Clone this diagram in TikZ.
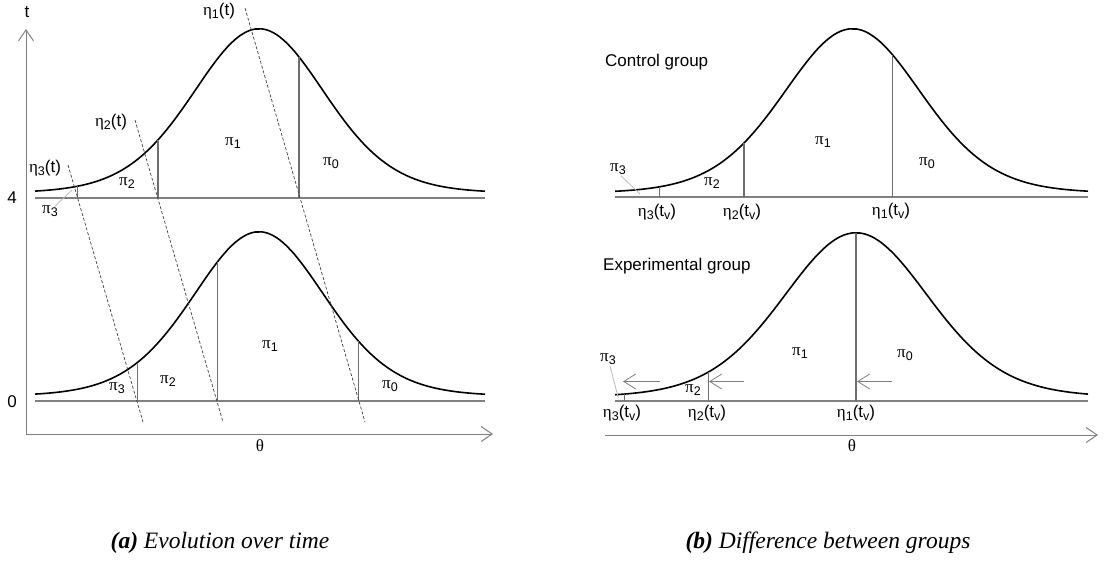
\documentclass[tikz,border=0pt]{standalone}
\usepackage{fontspec}
\setmainfont{Liberation Sans}
\newfontfamily\grk{Liberation Serif}
\newfontfamily\capf{Liberation Serif}
\usetikzlibrary{arrows.meta}
\newcommand\sbx[1]{\raisebox{-0.35ex}{\fontsize{12.5}{12.5}\selectfont #1}}
\newcommand\gpi[1]{{\grk π}\sbx{#1}}
\newcommand\geta[2]{{\grk η}\sbx{#1}(#2)}
\newcommand\tv{t\sbx{v}}
% bell curve height at distance #1 from centre, scale #2
\pgfmathdeclarefunction{gs}{2}{\pgfmathparse{164*(1+((#1)/(#2))^2/15)^(-8)}}
\definecolor{axisgray}{HTML}{808080}
\definecolor{cutgray}{HTML}{6E6E6E}
\definecolor{leadgray}{HTML}{BBBBBB}
\tikzset{
  lbl/.style={font=\fontsize{17}{19}\selectfont, inner sep=0pt},
  caplbl/.style={font=\fontsize{23.5}{26}\capf\itshape, inner sep=0pt},
  curve/.style={line width=1.6pt, black},
  baseln/.style={line width=1.3pt, axisgray},
  cutln/.style={line width=1.2pt, cutgray},
  axisln/.style={line width=1pt, axisgray, -{Straight Barb[length=11pt,width=15pt,line width=1pt]}},
  dashln/.style={line width=0.7pt, black!75, dash pattern=on 3pt off 2pt},
  shiftarr/.style={line width=0.8pt, axisgray, -{Straight Barb[length=12pt,width=15pt,line width=0.8pt]}},
  leadln/.style={line width=0.8pt, leadgray}
}
\begin{document}
\begin{tikzpicture}[x=1pt,y=-1pt]
\useasboundingbox (0,0) rectangle (1105,560);

% ---------------- Panel (a) ----------------
\coordinate (ta0) at (26,434);
\coordinate (taT) at (26,29);
\coordinate (taR) at (493,434);
\draw[axisln] (ta0) -- (taT);
\draw[axisln] (ta0) -- (taR);
\node[lbl] (tlab) at (27,12) {t};
\node[lbl] (thA) at (260,446) {\grk θ};
\node[lbl] (four) at (12,198) {4};
\node[lbl] (zero) at (12,402) {0};

% top curve (t = 4)
\coordinate (b4L) at (35,198); \coordinate (b4R) at (485,198);
\draw[baseln] (b4L) -- (b4R);
\draw[curve] plot[domain=35:485, samples=150, smooth] (\x,{193-gs(\x-259,67)});
\coordinate (c4a) at (77.7,198); \coordinate (c4aT) at (77.7,{193-gs(77.7-259,67)});
\coordinate (c4b) at (158,198); \coordinate (c4bT) at (158,{193-gs(158-259,67)});
\coordinate (c4c) at (299,198); \coordinate (c4cT) at (299,{193-gs(299-259,67)});
\draw[cutln] (c4a) -- (c4aT);
\draw[cutln] (c4b) -- (c4bT);
\draw[cutln] (c4c) -- (c4cT);

% bottom curve (t = 0)
\coordinate (b0L) at (35,401); \coordinate (b0R) at (485,401);
\draw[baseln] (b0L) -- (b0R);
\draw[curve] plot[domain=35:485, samples=150, smooth] (\x,{396-gs(\x-259,67)});
\coordinate (c0a) at (137.3,401); \coordinate (c0aT) at (137.3,{396-gs(137.3-259,67)});
\coordinate (c0b) at (217.3,401); \coordinate (c0bT) at (217.3,{396-gs(217.3-259,67)});
\coordinate (c0c) at (358.5,401); \coordinate (c0cT) at (358.5,{396-gs(358.5-259,67)});
\draw[cutln] (c0a) -- (c0aT);
\draw[cutln] (c0b) -- (c0bT);
\draw[cutln] (c0c) -- (c0cT);

% dashed threshold trajectories
\coordinate (d1s) at (245,8);   \coordinate (d1e) at (365,422);
\coordinate (d2s) at (135,120); \coordinate (d2e) at (223,422);
\coordinate (d3s) at (68,165);  \coordinate (d3e) at (143,422);
\draw[dashln] (d1s) -- (d1e);
\draw[dashln] (d2s) -- (d2e);
\draw[dashln] (d3s) -- (d3e);
\node[lbl] (e1t) at (219,11) {\geta{1}{t}};
\node[lbl] (e2t) at (111,122) {\geta{2}{t}};
\node[lbl] (e3t) at (45,168) {\geta{3}{t}};

% pi labels, panel (a)
\node[lbl] (p3a) at (50,211) {\gpi{3}};
\coordinate (l3a) at (72,190);
\draw[leadln] (p3a.north east) ++(-3,1) coordinate (l3as) -- (l3a);
\node[lbl] (p2a) at (127,183) {\gpi{2}};
\node[lbl] (p1a) at (233,143) {\gpi{1}};
\node[lbl] (p0a) at (331,163) {\gpi{0}};
\node[lbl] (p3b) at (117,388) {\gpi{3}};
\node[lbl] (p2b) at (168,381) {\gpi{2}};
\node[lbl] (p1b) at (270,346) {\gpi{1}};
\node[lbl] (p0b) at (390,386) {\gpi{0}};

% ---------------- Panel (b) ----------------
\coordinate (tbL) at (605,435);
\coordinate (tbR) at (1098,435);
\draw[axisln] (tbL) -- (tbR);
\node[lbl] (thB) at (852,446) {\grk θ};

% control group
\node[lbl, anchor=base west] (ctl) at (605,66) {Control group};
\coordinate (bcL) at (615,197); \coordinate (bcR) at (1088,197);
\draw[baseln] (bcL) -- (bcR);
\draw[curve] plot[domain=615:1088, samples=150, smooth] (\x,{193-gs(\x-852.5,70)});
\coordinate (cca) at (659.5,197); \coordinate (ccaT) at (659.5,{193-gs(659.5-852.5,70)});
\coordinate (ccb) at (744,197); \coordinate (ccbT) at (744,{193-gs(744-852.5,70)});
\coordinate (ccc) at (892.5,197); \coordinate (cccT) at (892.5,{193-gs(892.5-852.5,70)});
\draw[cutln] (cca) -- (ccaT);
\draw[cutln] (ccb) -- (ccbT);
\draw[cutln] (ccc) -- (cccT);
\node[lbl] (p3c) at (618,169) {\gpi{3}};
\coordinate (l3c) at (640,194);
\draw[leadln] (p3c.south) ++(3,1) coordinate (l3cs) -- (l3c);
\node[lbl] (p2c) at (712,183) {\gpi{2}};
\node[lbl] (p1c) at (823,142) {\gpi{1}};
\node[lbl] (p0c) at (927,163) {\gpi{0}};
\node[lbl] (e3c) at (657,212) {\geta{3}{\tv}};
\node[lbl] (e2c) at (742,212) {\geta{2}{\tv}};
\node[lbl] (e1c) at (891,211) {\geta{1}{\tv}};

% experimental group
\node[lbl, anchor=base west] (exg) at (603,270) {Experimental group};
\coordinate (beL) at (615,401); \coordinate (beR) at (1088,401);
\draw[baseln] (beL) -- (beR);
\draw[curve] plot[domain=615:1088, samples=150, smooth] (\x,{397-gs(\x-856,74)});
\coordinate (cea) at (624.3,401); \coordinate (ceaT) at (624.3,{397-gs(624.3-856,74)});
\coordinate (ceb) at (708.5,401); \coordinate (cebT) at (708.5,{397-gs(708.5-856,74)});
\coordinate (cec) at (856,401); \coordinate (cecT) at (856,{397-gs(0,74)});
\draw[cutln] (cea) -- (ceaT);
\draw[cutln] (ceb) -- (cebT);
\draw[cutln] (cec) -- (cecT);
% shift arrows
\coordinate (s1a) at (892,381.5); \coordinate (s1b) at (857,381.5);
\coordinate (s2a) at (744,381.5); \coordinate (s2b) at (709,381.5);
\coordinate (s3a) at (660,381.5); \coordinate (s3b) at (623,381.5);
\draw[shiftarr] (s1a) -- (s1b);
\draw[shiftarr] (s2a) -- (s2b);
\draw[shiftarr] (s3a) -- (s3b);
\node[lbl] (p3e) at (608,359) {\gpi{3}};
\coordinate (l3e) at (618,397);
\draw[leadln] (p3e.south) ++(2,1) coordinate (l3es) -- (l3e);
\node[lbl] (p2e) at (693,390) {\gpi{2}};
\node[lbl] (p1e) at (800,353) {\gpi{1}};
\node[lbl] (p0e) at (905,355) {\gpi{0}};
\node[lbl] (e3e) at (622,413) {\geta{3}{\tv}};
\node[lbl] (e2e) at (707,413) {\geta{2}{\tv}};
\node[lbl] (e1e) at (856,413) {\geta{1}{\tv}};

% captions
\node[caplbl] (capa) at (220,543) {\textbf{(a)} Evolution over time};
\node[caplbl] (capb) at (828,543) {\textbf{(b)} Difference between groups};
\end{tikzpicture}
\end{document}
